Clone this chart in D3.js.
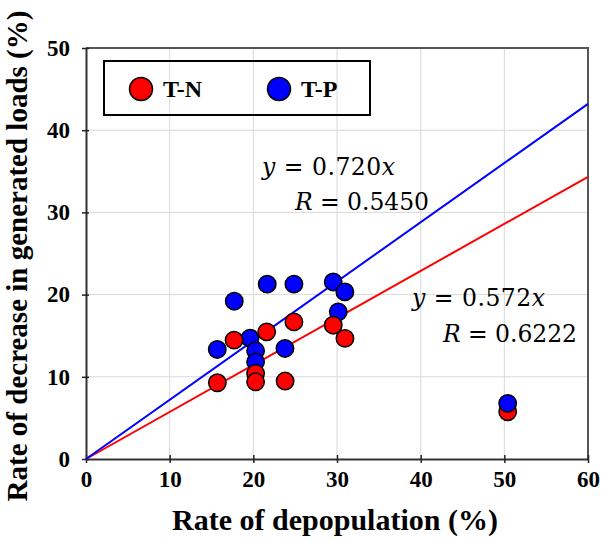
<!DOCTYPE html>
<html>
<head>
<meta charset="utf-8">
<script src="https://cdn.jsdelivr.net/npm/d3@7"></script>
<style>
  body { margin: 0; background: #fff; }
  .tick text { font-family: "Liberation Serif", "Times New Roman", serif; font-weight: bold; font-size: 23px; fill: #000; }
  .grid line { stroke: #d9d9d9; stroke-width: 1; }
  .eq { font-family: "DejaVu Serif", serif; font-size: 23.5px; fill: #000; }
</style>
</head>
<body>
<script>
// T-N points (red)
var tnX = [15.7, 17.7, 21.6, 24.85, 20.27, 20.27, 23.8, 29.55, 30.95, 50.4];
var tnY = [9.27, 14.46, 15.47, 16.68, 10.41, 9.39, 9.48, 16.28, 14.67, 5.75];
// T-P points (blue)
var tpX = [21.66, 24.85, 17.72, 29.55, 30.94, 30.15, 15.69, 19.6, 20.27, 20.27, 23.78, 50.4];
var tpY = [21.27, 21.27, 19.2, 21.54, 20.33, 17.9, 13.33, 14.7, 13.16, 11.82, 13.45, 6.77];

var seriesNames = ["T-N", "T-P"];
var seriesColors = ["#ff0000", "#0000ff"];
var slopes = [0.572, 0.720];
var rValues = ["0.6222", "0.5450"];
var xTicks = [0, 10, 20, 30, 40, 50, 60];
var yTicks = [0, 10, 20, 30, 40, 50];

// Set the dimensions of the canvas / graph
var margin = {top: 48, right: 13, bottom: 82, left: 86},
    width = 601 - margin.left - margin.right,
    height = 541 - margin.top - margin.bottom;

var x = d3.scaleLinear().domain([0, 60]).range([0, width]);
var y = d3.scaleLinear().domain([0, 50]).range([height, 0]);

var svg = d3.select("body")
    .append("svg")
        .attr("width", 601)
        .attr("height", 541)
    .append("g")
        .attr("transform", "translate(" + margin.left + "," + margin.top + ")");

// gridlines
svg.append("g")
    .attr("class", "grid")
    .selectAll("line.v")
    .data(xTicks.slice(1, -1))
    .enter().append("line")
        .attr("x1", function(d) { return x(d); })
        .attr("x2", function(d) { return x(d); })
        .attr("y1", 0)
        .attr("y2", height);

svg.append("g")
    .attr("class", "grid")
    .selectAll("line.h")
    .data(yTicks.slice(1, -1))
    .enter().append("line")
        .attr("x1", 0)
        .attr("x2", width)
        .attr("y1", function(d) { return y(d); })
        .attr("y2", function(d) { return y(d); });

// top / right frame
svg.append("path")
    .attr("d", "M0,0H" + width + "V" + height)
    .attr("fill", "none")
    .attr("stroke", "#555")
    .attr("stroke-width", 2);

// Add the X Axis
var xAxis = svg.append("g")
    .attr("transform", "translate(0," + height + ")")
    .call(d3.axisBottom(x).tickValues(xTicks).tickSizeInner(4).tickSizeOuter(0).tickPadding(8));
xAxis.selectAll(".tick line").attr("y1", -4).attr("stroke", "#222").attr("stroke-width", 1.5);

// Add the Y Axis
var yAxis = svg.append("g")
    .call(d3.axisLeft(y).tickValues(yTicks).tickSizeInner(4).tickSizeOuter(0).tickPadding(12));
yAxis.selectAll(".tick line").attr("x1", 3).attr("stroke", "#222").attr("stroke-width", 1.5);

svg.selectAll(".domain").attr("stroke", "#333").attr("stroke-width", 2);

// regression lines
var line = d3.line()
    .x(function(d) { return x(d[0]); })
    .y(function(d) { return y(d[1]); });

slopes.forEach(function(k, i) {
    svg.append("path")
        .attr("d", line([[0, 0], [60, 60 * k]]))
        .attr("fill", "none")
        .attr("stroke", seriesColors[i])
        .attr("stroke-width", 2);
});

// points: blue first, red on top
function drawPoints(xs, ys, color, cls) {
    return svg.append("g").attr("class", cls)
        .selectAll("circle")
        .data(xs.map(function(v, i) { return [v, ys[i]]; }))
        .enter().append("circle")
            .attr("cx", function(d) { return x(d[0]); })
            .attr("cy", function(d) { return y(d[1]); })
            .attr("r", 8.7)
            .attr("fill", color)
            .attr("stroke", "#000")
            .attr("stroke-width", 1.5);
}
var tpDots = drawPoints(tpX, tpY, seriesColors[1], "tp");
var tnDots = drawPoints(tnX, tnY, seriesColors[0], "tn");
// the outlier pair at ~50% has blue drawn over red
svg.append("g").attr("class", "tp-top").node().appendChild(
    tpDots.filter(function(d) { return d[0] > 45; }).node());

// equations
var eqs = [
    {k: 1, x1: 262, y1: 175, x2: 295, y2: 210},
    {k: 0, x1: 412, y1: 306, x2: 443, y2: 342}
];
eqs.forEach(function(e) {
    var t1 = svg.append("text").attr("class", "eq")
        .attr("x", e.x1 - margin.left).attr("y", e.y1 - margin.top)
        .attr("textLength", 133).attr("lengthAdjust", "spacing");
    t1.append("tspan").style("font-style", "italic").text("y");
    t1.append("tspan").text(" = " + slopes[e.k].toFixed(3));
    t1.append("tspan").style("font-style", "italic").text("x");

    var t2 = svg.append("text").attr("class", "eq")
        .attr("x", e.x2 - margin.left).attr("y", e.y2 - margin.top)
        .attr("textLength", 134).attr("lengthAdjust", "spacing");
    t2.append("tspan").style("font-style", "italic").text("R");
    t2.append("tspan").text(" = " + rValues[e.k]);
});

// legend
var legend = svg.append("g")
    .attr("transform", "translate(" + (104 - margin.left) + "," + (61 - margin.top) + ")");
legend.append("rect")
    .attr("width", 266)
    .attr("height", 54)
    .attr("fill", "none")
    .attr("stroke", "#000")
    .attr("stroke-width", 2);
var legendPos = [37, 175];
seriesNames.forEach(function(name, i) {
    legend.append("circle")
        .attr("cx", legendPos[i])
        .attr("cy", 28)
        .attr("r", 11.5)
        .attr("fill", seriesColors[i])
        .attr("stroke", "#000")
        .attr("stroke-width", 1.5);
    legend.append("text")
        .attr("x", legendPos[i] + 22)
        .attr("y", 36)
        .style("font-family", "Liberation Serif, serif")
        .style("font-weight", "bold")
        .style("font-size", "24px")
        .text(name);
});

// text label for the x axis
svg.append("text")
    .attr("x", width / 2 - 2)
    .attr("y", height + 71)
    .style("text-anchor", "middle")
    .style("font-family", "Liberation Serif, serif")
    .style("font-weight", "bold")
    .style("font-size", "30px")
    .text("Rate of depopulation (%)");

// text label for the y axis
svg.append("text")
    .attr("transform", "rotate(-90)")
    .attr("y", 27 - margin.left)
    .attr("x", 0 - (256 - margin.top))
    .style("text-anchor", "middle")
    .style("font-family", "Liberation Serif, serif")
    .style("font-weight", "bold")
    .style("font-size", "29px")
    .text("Rate of decrease in generated loads (%)");
</script>
</body>
</html>
